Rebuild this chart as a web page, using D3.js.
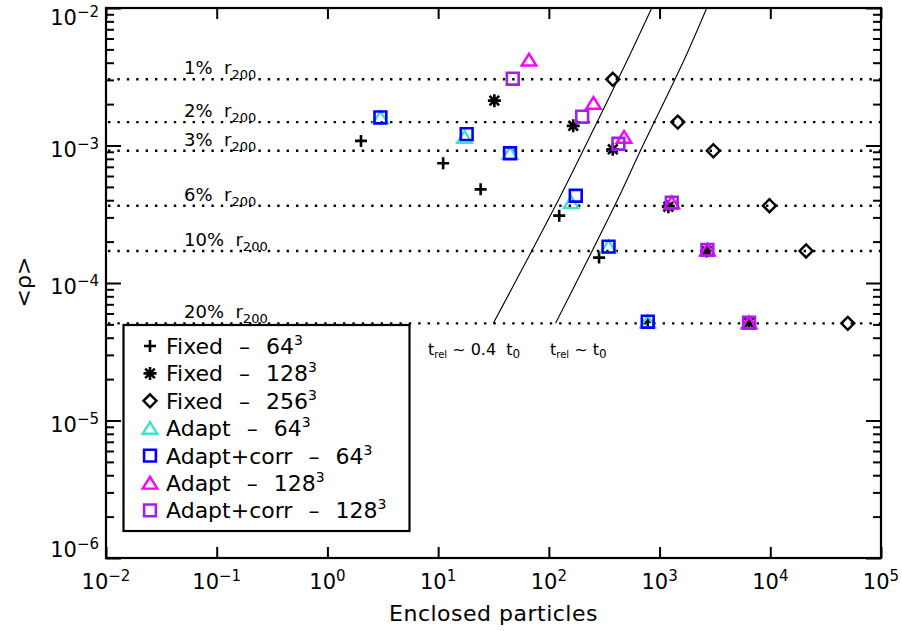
<!DOCTYPE html>
<html><head><meta charset="utf-8">
<script src="https://cdn.jsdelivr.net/npm/d3@7/dist/d3.min.js"></script>
<style>
html,body{margin:0;padding:0;background:#fff;}
svg{display:block;}
text{font-family:"DejaVu Sans",sans-serif;fill:#000;}
</style></head>
<body>
<script>
// ---------- data ----------
const xTickExps = [-2,-1,0,1,2,3,4,5];
const yTickExps = [-6,-5,-4,-3,-2];
const rLabels = ["1%","2%","3%","6%","10%","20%"];
const rLevels = [3.03e-3,1.48e-3,9.16e-4,3.65e-4,1.71e-4,5.09e-5];

const fixed64N   = [2.01, 11.1, 24.2, 124, 284, 782];
const fixed64Rho = [1.08e-3, 7.42e-4, 4.80e-4, 3.09e-4, 1.53e-4, 5.23e-5];
const fixed128N   = [32.2, 166, 378, 1200, 2660, 6435];
const fixed128Rho = [2.12e-3, 1.39e-3, 9.38e-4, 3.59e-4, 1.71e-4, 5.14e-5];
const fixed256N   = [378, 1460, 3060, 9820, 21060, 50120];
const fixed256Rho = [3.03e-3, 1.48e-3, 9.16e-4, 3.65e-4, 1.71e-4, 5.09e-5];
const adapt64N   = [3.01, 17.3, 44.6, 159, 346, 782];
const adapt64Rho = [1.60e-3, 1.15e-3, 8.78e-4, 3.85e-4, 1.84e-4, 5.23e-5];
const corr64N   = [3.01, 18.1, 44.6, 175, 346, 782];
const corr64Rho = [1.60e-3, 1.21e-3, 8.78e-4, 4.31e-4, 1.84e-4, 5.23e-5];
const adapt128N   = [66.2, 253, 478, 1289, 2703, 6435];
const adapt128Rho = [4.19e-3, 2.03e-3, 1.15e-3, 3.84e-4, 1.74e-4, 5.14e-5];
const corr128N   = [47.2, 200, 425, 1289, 2703, 6435];
const corr128Rho = [3.06e-3, 1.62e-3, 1.03e-3, 3.84e-4, 1.74e-4, 5.14e-5];

const trel04N   = [850, 512, 205, 122, 31.5];
const trel04Rho = [1e-2, 4.19e-3, 9.27e-4, 4.01e-4, 5.09e-5];
const trel1N    = [2669, 1665, 676, 416, 115];
const trel1Rho  = [1e-2, 4.19e-3, 9.27e-4, 4.01e-4, 5.09e-5];

const seriesNames = ["Fixed","Fixed","Fixed","Adapt","Adapt+corr","Adapt","Adapt+corr"];
const seriesRes   = ["64","128","256","64","64","128","128"];

// ---------- layout ----------
const W = 902, H = 631;
const L = 106, R = 881, T = 8, B = 558;
const x = d3.scaleLog().domain([1e-2,1e5]).range([L,R]);
const y = d3.scaleLog().domain([1e-6,1e-2]).range([B,T]);

const svg = d3.select("body").append("svg").attr("width",W).attr("height",H);

// symbols
const sym = {
  plus: "M-6,0H6M0,-6V6",
  star: "M-6.5,0H6.5M0,-6.5V6.5M-4.8,-4.8L4.8,4.8M-4.8,4.8L4.8,-4.8",
  diamond: "M0,-6.5L6.5,0L0,6.5L-6.5,0Z",
  tri: "M-7.3,5.6L7.3,5.6L0,-6.2Z",
  square: "M-5.9,-5.9H5.9V5.9H-5.9Z"
};
const series = [
  {N:fixed64N, R:fixed64Rho, s:"plus", c:"#000", w:2.6},
  {N:fixed128N, R:fixed128Rho, s:"star", c:"#000", w:2.6},
  {N:fixed256N, R:fixed256Rho, s:"diamond", c:"#000", w:2.4},
  {N:adapt64N, R:adapt64Rho, s:"tri", c:"#40e0d0", w:2.4},
  {N:corr64N, R:corr64Rho, s:"square", c:"#0000ff", w:2.6},
  {N:adapt128N, R:adapt128Rho, s:"tri", c:"#ff00ff", w:2.4},
  {N:corr128N, R:corr128Rho, s:"square", c:"#a020f0", w:2.6}
];

// dotted reference lines
const gLev = svg.append("g");
rLevels.forEach((v,i)=>{
  gLev.append("line").attr("x1",L+2).attr("x2",R).attr("y1",y(v)).attr("y2",y(v))
    .attr("stroke","#000").attr("stroke-width",2.4).attr("stroke-dasharray","2.4,7");
  const t = gLev.append("text").attr("x",184).attr("y",y(v)-5).attr("font-size",18)
    .attr("xml:space","preserve");
  t.append("tspan").text(rLabels[i]+"  r");
  t.append("tspan").attr("font-size",13).attr("dy",5).text("200");
});

// relaxation time lines
svg.append("clipPath").attr("id","pc").append("rect")
  .attr("x",L).attr("y",T).attr("width",R-L).attr("height",B-T);
const line = d3.line().x(d=>x(d[0])).y(d=>y(d[1])).curve(d3.curveCatmullRom);
[[trel04N,trel04Rho],[trel1N,trel1Rho]].forEach(([n,r])=>{
  svg.append("path").attr("clip-path","url(#pc)")
    .attr("d",line(n.map((v,i)=>[v,r[i]])))
    .attr("fill","none").attr("stroke","#000").attr("stroke-width",1.1);
});

// points
series.forEach(S=>{
  S.N.forEach((n,i)=>{
    svg.append("path").attr("d",sym[S.s])
      .attr("transform",`translate(${x(n)},${y(S.R[i])})`)
      .attr("fill","none").attr("stroke",S.c).attr("stroke-width",S.w)
      .attr("stroke-linejoin","miter");
  });
});

// axes
const majX = xTickExps.map(e=>Math.pow(10,e));
const majY = yTickExps.map(e=>Math.pow(10,e));
const minY = [];
for (let e=-6;e<-2;e++) for (let m=2;m<=9;m++) minY.push(m*Math.pow(10,e));

function styleAx(g){ g.select(".domain").remove(); g.selectAll("line").attr("stroke","#000").attr("stroke-width",2); }
svg.append("g").attr("transform",`translate(0,${B})`)
  .call(d3.axisBottom(x).tickValues(majX).tickSize(-11).tickFormat("")).call(styleAx);
svg.append("g").attr("transform",`translate(0,${T})`)
  .call(d3.axisTop(x).tickValues(majX).tickSize(-11).tickFormat("")).call(styleAx);
svg.append("g").attr("transform",`translate(${L},0)`)
  .call(d3.axisLeft(y).tickValues(majY).tickSize(-15).tickFormat("")).call(styleAx);
svg.append("g").attr("transform",`translate(${L},0)`)
  .call(d3.axisLeft(y).tickValues(minY).tickSize(-8).tickFormat("")).call(styleAx);
svg.append("g").attr("transform",`translate(${R},0)`)
  .call(d3.axisRight(y).tickValues(majY).tickSize(-15).tickFormat("")).call(styleAx);
svg.append("g").attr("transform",`translate(${R},0)`)
  .call(d3.axisRight(y).tickValues(minY).tickSize(-8).tickFormat("")).call(styleAx);

svg.append("rect").attr("x",L).attr("y",T).attr("width",R-L).attr("height",B-T)
  .attr("fill","none").attr("stroke","#000").attr("stroke-width",2.2);

// tick labels
function powLabel(g, e, px, py, anchor){
  const t = g.append("text").attr("x",px).attr("y",py).attr("text-anchor",anchor)
    .attr("font-size",21);
  t.append("tspan").text("10");
  t.append("tspan").attr("font-size",15).attr("dy",-8).text(e<0?"\u2212"+(-e):""+e);
  return t;
}
const gl = svg.append("g");
xTickExps.forEach(e=>{ powLabel(gl, e, x(Math.pow(10,e)), 589, "middle"); });
yTickExps.forEach(e=>{
  let py = y(Math.pow(10,e)) + 11;
  if (e===-2) py = 25;
  if (e===-6) py = 557;
  powLabel(gl, e, 99, py, "end");
});

// axis titles
svg.append("text").attr("x",(L+R)/2).attr("y",621).attr("text-anchor","middle")
  .attr("font-size",22).attr("letter-spacing",0.5).text("Enclosed particles");
svg.append("text").attr("transform","translate(31,282) rotate(-90)")
  .attr("text-anchor","middle").attr("font-size",22).text("<\u03C1>");

// t_rel labels
function trelLabel(px, parts){
  const t = svg.append("text").attr("x",px).attr("y",355).attr("font-size",16)
    .attr("xml:space","preserve");
  t.append("tspan").text("t");
  t.append("tspan").attr("font-size",10).attr("dy",3).text("rel");
  t.append("tspan").attr("dy",-3).text(parts);
  t.append("tspan").text("t");
  t.append("tspan").attr("font-size",12).attr("dy",3).text("0");
}
trelLabel(428, " ~ 0.4  ");
trelLabel(550, " ~ ");

// legend
const lg = svg.append("g");
lg.append("rect").attr("x",123.5).attr("y",325).attr("width",286).attr("height",206)
  .attr("fill","#fff").attr("stroke","#000").attr("stroke-width",2.2);
series.forEach((S,i)=>{
  const cy = 346 + i*27.4;
  lg.append("path").attr("d",sym[S.s]).attr("transform",`translate(150,${cy})`)
    .attr("fill","none").attr("stroke",S.c).attr("stroke-width",S.w);
  const by = cy + 8;
  const t1 = lg.append("text").attr("x",166).attr("y",by).attr("font-size",22).text(seriesNames[i]);
  const x1 = 166 + t1.node().getComputedTextLength() + 16;
  const t2 = lg.append("text").attr("x",x1).attr("y",by).attr("font-size",22).text("\u2013");
  const x2 = x1 + t2.node().getComputedTextLength() + 16;
  const t3 = lg.append("text").attr("x",x2).attr("y",by).attr("font-size",22);
  t3.append("tspan").text(seriesRes[i]);
  t3.append("tspan").attr("font-size",14).attr("dy",-9).text("3");
});
</script>
</body></html>
